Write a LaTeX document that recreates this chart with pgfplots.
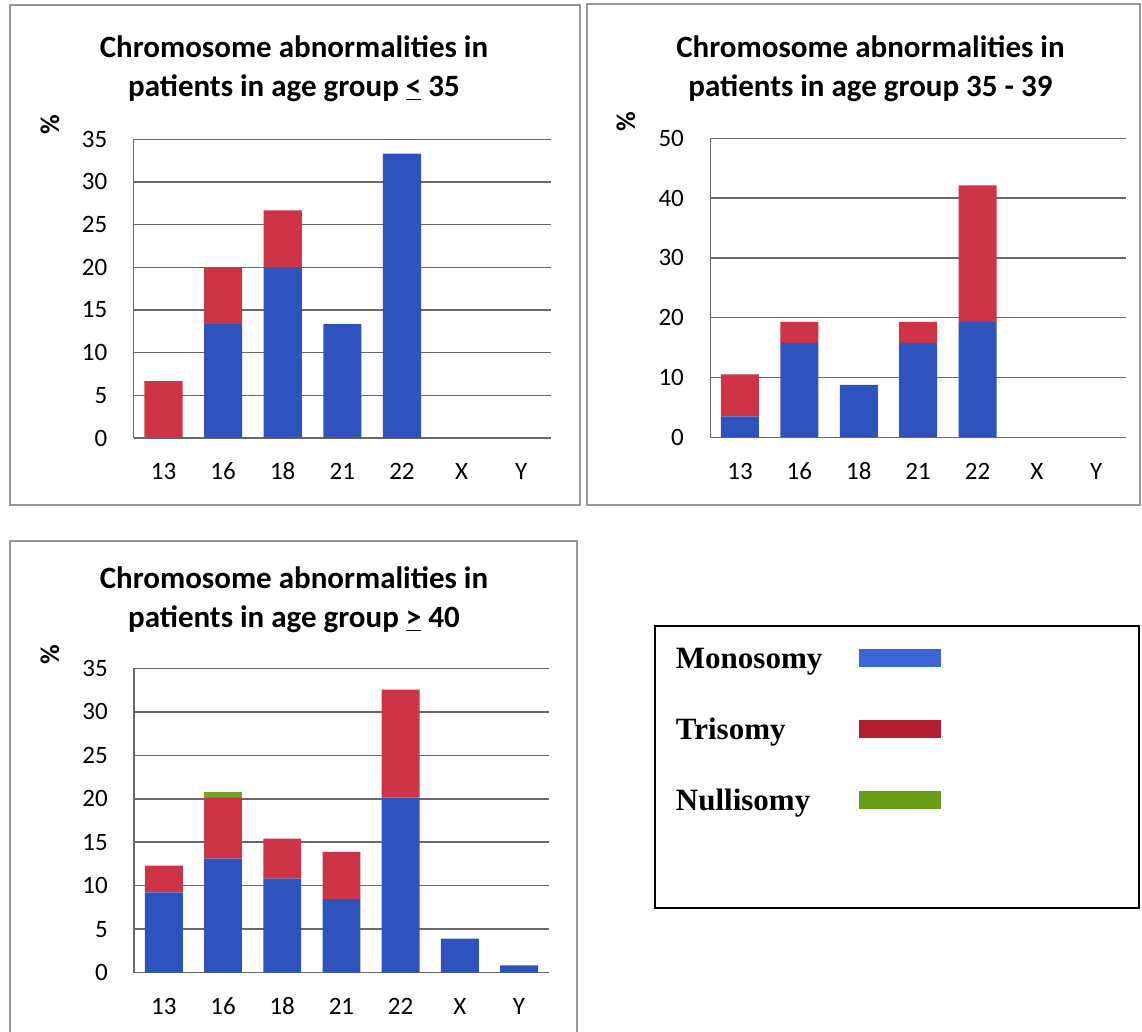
\documentclass[border=0pt]{standalone}
\usepackage{fontspec}
\setmainfont{Carlito}
\newfontfamily\legfont{Liberation Serif}
\usepackage{pgfplots}
\pgfplotsset{compat=1.18}

\definecolor{mono}{RGB}{46,82,190}
\definecolor{tri}{RGB}{205,52,70}
\definecolor{nulli}{RGB}{118,163,38}
\definecolor{monoL}{RGB}{58,102,214}
\definecolor{triL}{RGB}{176,32,50}
\definecolor{nulliL}{RGB}{104,158,22}
\definecolor{framec}{RGB}{150,150,150}
\definecolor{gridc}{RGB}{105,105,105}

\newcommand\tickfont{\fontsize{12.5}{14}\selectfont}
\newcommand\titlefont{\fontsize{15.5}{19.5}\selectfont\bfseries}

\pgfplotsset{
  chromo/.style={
    scale only axis,
    ybar stacked,
    bar width=0.64,
    xmin=-0.5, xmax=6.5,
    ymin=0,
    xtick={0,...,6},
    xticklabels={13,16,18,21,22,X,Y},
    axis x line*=bottom,
    axis y line*=left,
    axis line style={-, draw=gridc, line width=0.75pt},
    every outer x axis line/.append style={-},
    every outer y axis line/.append style={-},
    ymajorgrids,
    grid style={draw=gridc, line width=0.75pt},
    major tick length=0pt,
    tick style={draw=none},
    tick label style={font=\tickfont, inner sep=0pt},
    yticklabel style={font=\tickfont, anchor=east, xshift=-13pt},
    xticklabel style={font=\tickfont, anchor=base, yshift=-21pt},
    /pgf/number format/assume math mode=true,
  },
  monobar/.style={fill=mono, draw=none},
  tribar/.style={fill=tri, draw=none},
  nullbar/.style={fill=nulli, draw=none},
}

\begin{document}
\begin{tikzpicture}
\useasboundingbox (0pt,0pt) rectangle (571pt,516pt);

% panel frames
\draw[framec, line width=1pt] (5pt,513.5pt) rectangle (290pt,263.5pt);
\draw[framec, line width=1pt] (293.25pt,513.75pt) rectangle (570pt,263.5pt);
\draw[framec, line width=1pt] (5pt,-2pt) -- (5pt,245.5pt) -- (288.5pt,245.5pt) -- (288.5pt,-2pt);
% legend frame
\draw[black, line width=1pt] (327.5pt,203pt) rectangle (569.5pt,62pt);

% titles
\node[anchor=base, font=\titlefont] at (147pt,487pt) {Chromosome abnormalities in};
\node[anchor=base, font=\titlefont] at (147pt,467.5pt) {patients in age group \underline{<} 35};
\node[anchor=base, font=\titlefont] at (435.25pt,487pt) {Chromosome abnormalities in};
\node[anchor=base, font=\titlefont] at (435.25pt,467.5pt) {patients in age group 35 - 39};
\node[anchor=base, font=\titlefont] at (147pt,221.5pt) {Chromosome abnormalities in};
\node[anchor=base, font=\titlefont] at (147pt,202pt) {patients in age group \underline{>} 40};

% % labels
\node[rotate=90, font=\fontsize{13.5}{15}\selectfont\bfseries] at (25pt,453.5pt) {\%};
\node[rotate=90, font=\fontsize{13.5}{15}\selectfont\bfseries] at (313pt,455pt) {\%};
\node[rotate=90, font=\fontsize{13.5}{15}\selectfont\bfseries] at (25pt,188.5pt) {\%};

% Panel 1: age <= 35
\begin{axis}[chromo, at={(66.85pt,297pt)}, anchor=south west,
  width=208.65pt, height=149.35pt, ymax=35, ytick={0,5,...,35}]
\addplot[monobar] coordinates {(0,0) (1,13.33) (2,20) (3,13.33) (4,33.33) (5,0) (6,0)};
\addplot[tribar] coordinates {(0,6.67) (1,6.67) (2,6.67) (3,0) (4,0) (5,0) (6,0)};
\end{axis}

% Panel 2: age 35-39
\begin{axis}[chromo, at={(355.15pt,297.35pt)}, anchor=south west,
  width=207.85pt, height=149.5pt, ymax=50, ytick={0,10,...,50}]
\addplot[monobar] coordinates {(0,3.51) (1,15.79) (2,8.77) (3,15.79) (4,19.30) (5,0) (6,0)};
\addplot[tribar] coordinates {(0,7.02) (1,3.51) (2,0) (3,3.51) (4,22.81) (5,0) (6,0)};
\end{axis}

% Panel 3: age >= 40
\begin{axis}[chromo, at={(67.1pt,29.65pt)}, anchor=south west,
  width=207.25pt, height=152.2pt, ymax=35, ytick={0,5,...,35},
  legend style={at={(axis description cs:1.307,1.0667)}, anchor=north west,
    draw=none, fill=none, inner sep=0pt, outer sep=0pt,
    row sep=23.2pt, column sep=18.5pt,
    font=\legfont\bfseries\fontsize{15.5}{18}\selectfont,
    cells={anchor=base west}, nodes={inner sep=0pt}},
  legend plot pos=right]
\addplot[monobar, legend image code/.code={\fill[monoL] (0pt,0.8pt) rectangle (41pt,9.8pt);}]
  coordinates {(0,9.24) (1,13.11) (2,10.81) (3,8.47) (4,20.13) (5,3.92) (6,0.85)};
\addlegendentry{Monosomy}
\addplot[tribar, legend image code/.code={\fill[triL] (0pt,0.8pt) rectangle (41pt,9.8pt);}]
  coordinates {(0,3.07) (1,7.02) (2,4.60) (3,5.41) (4,12.42) (5,0) (6,0)};
\addlegendentry{Trisomy}
\addplot[nullbar, legend image code/.code={\fill[nulliL] (0pt,0.8pt) rectangle (41pt,9.8pt);}]
  coordinates {(0,0) (1,0.69) (2,0) (3,0) (4,0) (5,0) (6,0)};
\addlegendentry{Nullisomy}
\end{axis}
\end{tikzpicture}
\end{document}
